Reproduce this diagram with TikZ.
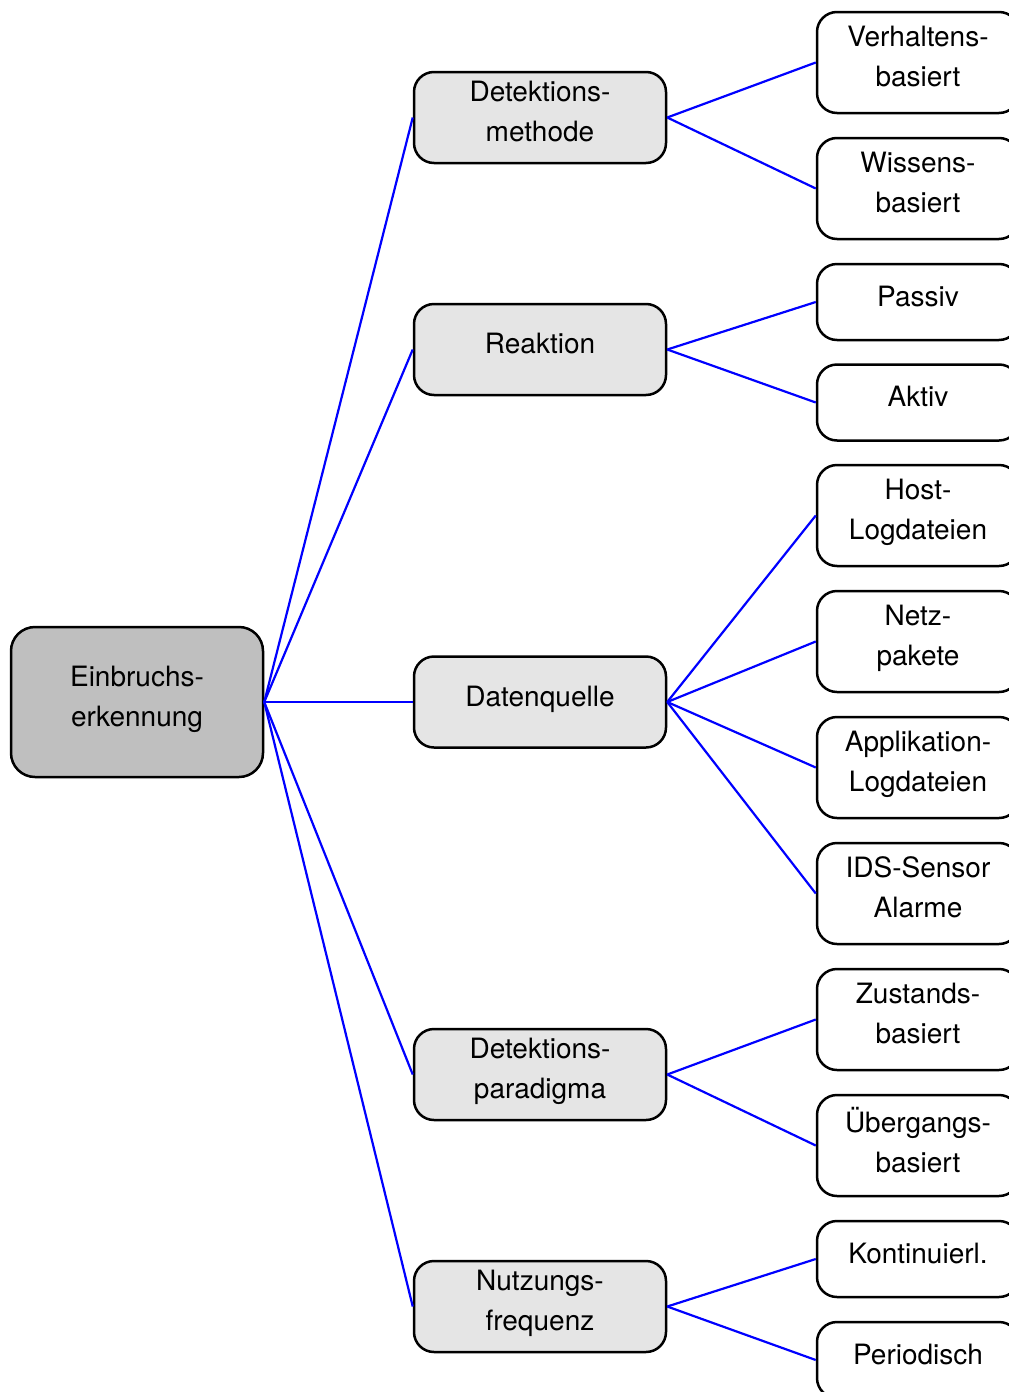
\documentclass[tikz,border=0pt]{standalone}
\usepackage{fontspec}
\setmainfont{TeX Gyre Heros}
\begin{document}
\begin{tikzpicture}[x=1pt,y=-1pt,
  box/.style={draw=black, line width=2.5pt, rounded corners=20pt},
  rootbox/.style={box, fill=black!25, minimum width=252pt, minimum height=150pt, rounded corners=24pt},
  midbox/.style={box, fill=black!10, minimum width=252pt, minimum height=91pt},
  leafbox/.style={box, fill=white, minimum width=202pt, minimum height=101pt},
  shortleaf/.style={leafbox, minimum height=76pt},
  txt/.style={font=\fontsize{28}{40}\selectfont, align=center, yshift=3pt, inner sep=0pt,
              execute at end node={\vphantom{g}}},
  link/.style={draw=blue, line width=2.2pt},
]
\useasboundingbox (0,0) rectangle (1009,1392);
\clip (0,0) rectangle (1009,1392);

% root of the taxonomy
\node[rootbox, label={[txt]center:{Einbruchs-\\erkennung}}] (root) at (137,702) {};

% first level: classification criteria
\node[midbox, label={[txt]center:{Detektions-\\methode}}] (m1) at (540,117.5) {};
\node[midbox, label={[txt]center:{Reaktion}}] (m2) at (540,349.5) {};
\node[midbox, label={[txt]center:{Datenquelle}}] (m3) at (540,702) {};
\node[midbox, label={[txt]center:{Detektions-\\paradigma}}] (m4) at (540,1074.5) {};
\node[midbox, label={[txt]center:{Nutzungs-\\frequenz}}] (m5) at (540,1306.5) {};

% second level: values of each criterion
\node[leafbox, label={[txt]center:{Verhaltens-\\basiert}}] (l1) at (918,62.5) {};
\node[leafbox, label={[txt]center:{Wissens-\\basiert}}] (l2) at (918,188.5) {};
\node[shortleaf, label={[txt]center:{Passiv}}] (l3) at (918,302) {};
\node[shortleaf, label={[txt]center:{Aktiv}}] (l4) at (918,402.5) {};
\node[leafbox, label={[txt]center:{Host-\\Logdateien}}] (l5) at (918,515.5) {};
\node[leafbox, label={[txt]center:{Netz-\\pakete}}] (l6) at (918,641.5) {};
\node[leafbox, label={[txt]center:{Applikation-\\Logdateien}}] (l7) at (918,767.5) {};
\node[leafbox, label={[txt]center:{IDS-Sensor\\Alarme}}] (l8) at (918,893.5) {};
\node[leafbox, label={[txt]center:{Zustands-\\basiert}}] (l9) at (918,1019.5) {};
\node[leafbox, label={[txt]center:{Übergangs-\\basiert}}] (l10) at (918,1145.5) {};
\node[shortleaf, label={[txt]center:{Kontinuierl.}}] (l11) at (918,1259) {};
\node[shortleaf, label={[txt]center:{Periodisch}}] (l12) at (918,1360) {};

% connectors
\foreach \m in {m1,m2,m3,m4,m5}
  \draw[link] (root.east) -- (\m.west);
\draw[link] (m1.east) -- (l1.west);
\draw[link] (m1.east) -- (l2.west);
\draw[link] (m2.east) -- (l3.west);
\draw[link] (m2.east) -- (l4.west);
\draw[link] (m3.east) -- (l5.west);
\draw[link] (m3.east) -- (l6.west);
\draw[link] (m3.east) -- (l7.west);
\draw[link] (m3.east) -- (l8.west);
\draw[link] (m4.east) -- (l9.west);
\draw[link] (m4.east) -- (l10.west);
\draw[link] (m5.east) -- (l11.west);
\draw[link] (m5.east) -- (l12.west);
\end{tikzpicture}
\end{document}
